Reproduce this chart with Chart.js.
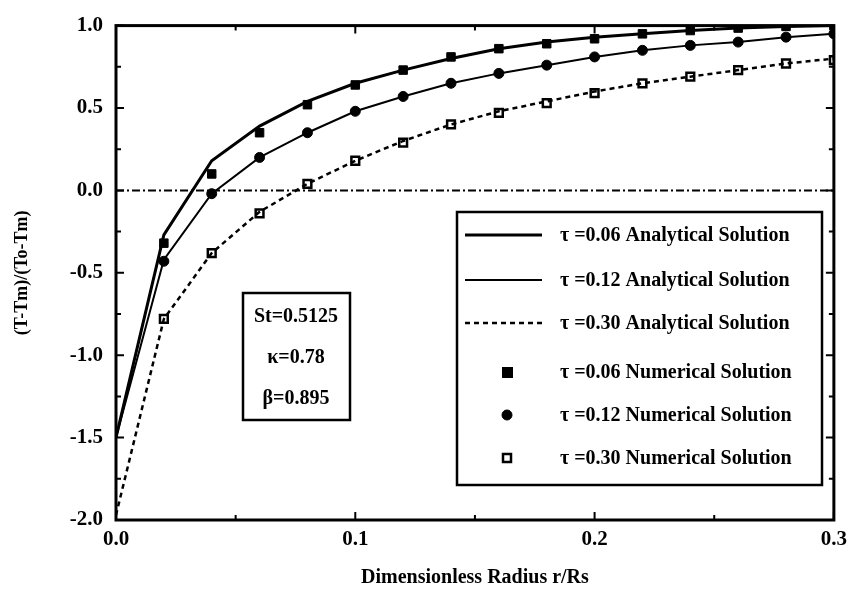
<!DOCTYPE html>
<html>
<head>
<meta charset="utf-8">
<title>(T-Tm)/(To-Tm) vs r/Rs</title>
<script src="https://cdn.jsdelivr.net/npm/chart.js@4.4.1/dist/chart.umd.min.js"></script>
<style>
  html, body { margin: 0; padding: 0; background: #fff; }
  #wrap { width: 854px; height: 594px; position: relative; }
</style>
</head>
<body>
<div id="wrap"><canvas id="chart"></canvas></div>
<script>
// --- dados ---
const raio = [0, 0.02, 0.04, 0.06, 0.08, 0.10, 0.12, 0.14, 0.16, 0.18, 0.20, 0.22, 0.24, 0.26, 0.28, 0.30];

// solucao analitica
const anal006 = [-1.50, -0.27, 0.18, 0.39, 0.54, 0.65, 0.73, 0.80, 0.86, 0.90, 0.93, 0.95, 0.97, 0.985, 0.995, 1.00];
const anal012 = [-1.50, -0.42, -0.02, 0.20, 0.35, 0.48, 0.57, 0.65, 0.71, 0.76, 0.81, 0.85, 0.88, 0.90, 0.93, 0.95];
const anal030 = [-1.97, -0.78, -0.38, -0.13, 0.04, 0.18, 0.30, 0.40, 0.48, 0.54, 0.60, 0.65, 0.69, 0.73, 0.77, 0.80];

// solucao numerica (sem r = 0)
const raioNum = [0.02, 0.04, 0.06, 0.08, 0.10, 0.12, 0.14, 0.16, 0.18, 0.20, 0.22, 0.24, 0.26, 0.28, 0.30];
const num006 = [-0.32, 0.10, 0.35, 0.52, 0.64, 0.73, 0.81, 0.86, 0.89, 0.92, 0.95, 0.97, 0.985, 0.995, 1.00];
const num012 = [-0.43, -0.02, 0.20, 0.35, 0.48, 0.57, 0.65, 0.71, 0.76, 0.81, 0.85, 0.88, 0.90, 0.93, 0.95];
const num030 = [-0.78, -0.38, -0.14, 0.04, 0.18, 0.29, 0.40, 0.47, 0.53, 0.59, 0.65, 0.69, 0.73, 0.77, 0.79];

const zeroX = [0, 0.30];
const zeroY = [0, 0];

const ticksX = [0, 0.1, 0.2, 0.3];
const ticksY = [-2.0, -1.5, -1.0, -0.5, 0.0, 0.5, 1.0];
const params = ['St=0.5125', '\u03BA=0.78', '\u03B2=0.895'];

const FONTE = '"Liberation Serif", "DejaVu Serif", serif';

const pts = (xs, ys) => xs.map((x, i) => ({ x, y: ys[i] }));

function linha(label, ys, largura, tracejado) {
  return {
    label, data: pts(raio, ys), showLine: true, borderColor: '#000',
    borderWidth: largura, borderDash: tracejado, pointRadius: 0, tension: 0,
    _tipo: 'linha',
  };
}
function marca(label, ys, estilo, fundo, raioPt) {
  return {
    label, data: pts(raioNum, ys), showLine: false, pointStyle: estilo,
    pointRadius: raioPt, backgroundColor: fundo, borderColor: '#000',
    borderWidth: fundo === '#fff' ? 2.5 : 1, _tipo: 'marca',
  };
}

// ticks para dentro, moldura, legenda e caixa de parametros
const extras = {
  id: 'extras',
  afterDraw(chart) {
    const { ctx, chartArea: a, scales: { x, y } } = chart;
    ctx.save();
    ctx.strokeStyle = '#000';
    ctx.lineWidth = 2;
    for (let v = 0; v <= 0.3001; v += 0.05) {
      const px = x.getPixelForValue(v);
      const len = Math.abs(v * 10 - Math.round(v * 10)) < 1e-6 ? 8 : 5;
      ctx.beginPath();
      ctx.moveTo(px, a.bottom); ctx.lineTo(px, a.bottom - len);
      ctx.moveTo(px, a.top); ctx.lineTo(px, a.top + len);
      ctx.stroke();
    }
    for (let v = -2; v <= 1.0001; v += 0.25) {
      const py = y.getPixelForValue(v);
      const len = Math.abs(v * 2 - Math.round(v * 2)) < 1e-6 ? 8 : 5;
      ctx.beginPath();
      ctx.moveTo(a.left, py); ctx.lineTo(a.left + len, py);
      ctx.moveTo(a.right, py); ctx.lineTo(a.right - len, py);
      ctx.stroke();
    }
    ctx.lineWidth = 3;
    ctx.strokeRect(a.left, a.top, a.right - a.left, a.bottom - a.top);

    // legenda
    const lx = 457, ly = 212, lw = 365, lh = 273;
    ctx.fillStyle = '#fff';
    ctx.fillRect(lx, ly, lw, lh);
    ctx.lineWidth = 2.5;
    ctx.strokeRect(lx, ly, lw, lh);
    ctx.font = 'bold 20px ' + FONTE;
    ctx.textBaseline = 'middle';
    ctx.textAlign = 'left';
    const linhasY = [235, 280, 323, 372, 415, 458];
    chart.data.datasets.filter(d => d.label).forEach((d, i) => {
      const yy = linhasY[i];
      if (d._tipo === 'linha') {
        ctx.beginPath();
        ctx.lineWidth = d.borderWidth;
        ctx.setLineDash(d.borderDash || []);
        ctx.moveTo(465, yy); ctx.lineTo(542, yy);
        ctx.stroke();
        ctx.setLineDash([]);
      } else {
        ctx.lineWidth = d.borderWidth;
        ctx.fillStyle = d.backgroundColor;
        if (d.pointStyle === 'circle') {
          ctx.beginPath(); ctx.arc(507, yy, 5, 0, Math.PI * 2); ctx.fill(); ctx.stroke();
        } else if (d.backgroundColor === '#fff') {
          ctx.fillRect(503, yy - 4, 8, 8); ctx.strokeRect(503, yy - 4, 8, 8);
        } else {
          ctx.fillRect(502, yy - 5, 11, 11);
        }
      }
      ctx.fillStyle = '#000';
      ctx.fillText(d.label, 560, yy + 1);
    });

    // caixa de parametros
    ctx.lineWidth = 2.5;
    ctx.strokeRect(243, 293, 107, 127);
    ctx.textAlign = 'center';
    params.forEach((t, i) => ctx.fillText(t, 296, 317 + i * 41));
    ctx.restore();
  }
};

new Chart(document.getElementById('chart'), {
  type: 'scatter',
  data: {
    datasets: [
      linha('\u03C4 =0.06 Analytical Solution', anal006, 3, []),
      linha('\u03C4 =0.12 Analytical Solution', anal012, 2, []),
      linha('\u03C4 =0.30 Analytical Solution', anal030, 2.5, [5, 4]),
      marca('\u03C4 =0.06 Numerical Solution', num006, 'rect', '#000', 6),
      marca('\u03C4 =0.12 Numerical Solution', num012, 'circle', '#000', 5),
      marca('\u03C4 =0.30 Numerical Solution', num030, 'rect', '#fff', 5.5),
      {
        label: '', data: pts(zeroX, zeroY), showLine: true, borderColor: '#000',
        borderWidth: 2, borderDash: [8, 3, 2, 3], pointRadius: 0,
      },
    ],
  },
  options: {
    responsive: true,
    maintainAspectRatio: false,
    animation: false,
    layout: { padding: { top: 15, right: 19, left: 0, bottom: 0 } },
    plugins: { legend: { display: false }, tooltip: { enabled: false } },
    scales: {
      x: {
        type: 'linear', min: 0, max: 0.3,
        grid: { display: false, drawTicks: false },
        border: { display: false },
        afterBuildTicks: (s) => { s.ticks = ticksX.map(v => ({ value: v })); },
        afterFit: (s) => { s.height = 74; },
        ticks: {
          padding: 7, color: '#000',
          font: { family: FONTE, size: 21, weight: 'bold' },
          callback: (v) => Number(v).toFixed(1),
        },
        title: {
          display: true, text: 'Dimensionless Radius r/Rs', color: '#000',
          font: { family: FONTE, size: 20, weight: 'bold' }, padding: { top: 12 },
        },
      },
      y: {
        type: 'linear', min: -2, max: 1,
        grid: { display: false, drawTicks: false },
        border: { display: false },
        afterBuildTicks: (s) => { s.ticks = ticksY.map(v => ({ value: v })); },
        afterFit: (s) => { s.width = 116; },
        ticks: {
          padding: 13, color: '#000',
          font: { family: FONTE, size: 21, weight: 'bold' },
          callback: (v) => Number(v).toFixed(1),
        },
        title: {
          display: true, text: '(T-Tm)/(To-Tm)', color: '#000',
          font: { family: FONTE, size: 18, weight: 'bold' }, padding: { bottom: 0, top: 12 },
        },
      },
    },
  },
  plugins: [extras],
});
</script>
</body>
</html>
